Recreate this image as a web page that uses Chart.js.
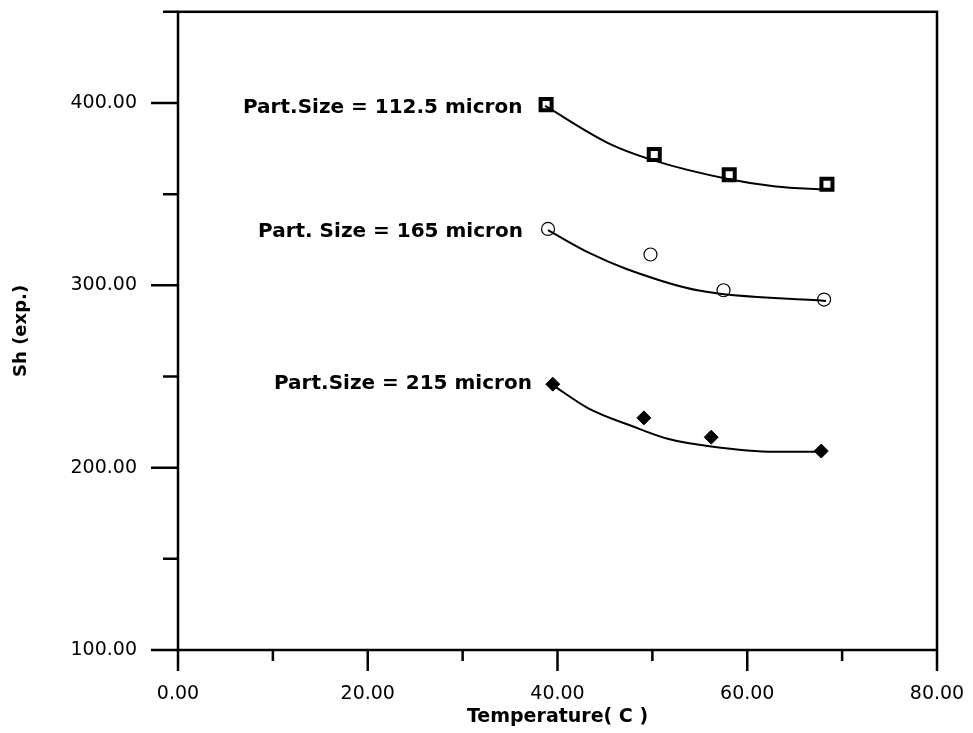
<!DOCTYPE html>
<html>
<head>
<meta charset="utf-8">
<script src="https://cdn.jsdelivr.net/npm/chart.js@4.4.1/dist/chart.umd.min.js"></script>
<style>
  html, body { margin: 0; padding: 0; background: #fff; }
  #wrap { width: 973px; height: 733px; }
</style>
</head>
<body>
<div id="wrap"><canvas id="grafico"></canvas></div>
<script>
// Medidas experimentales (Sh vs temperatura) para cada tamaño de partícula
const temp1125 = [38.8, 50.2, 58.1, 68.4];
const sh1125 = [399.1, 371.8, 360.6, 355.4];
const temp165 = [39.0, 49.8, 57.5, 68.1];
const sh165 = [330.9, 316.9, 297.3, 292.2];
const temp215 = [39.5, 49.1, 56.2, 67.8];
const sh215 = [245.8, 227.3, 216.7, 209.1];

// Curvas ajustadas
const ajusteTemp1125 = [38.7, 45.5, 50.2, 58.1, 63.0, 68.3];
const ajusteSh1125 = [398.4, 377.6, 368.4, 358.2, 354.2, 352.5];
const ajusteTemp165 = [39.0, 43.4, 47.2, 54.9, 68.3];
const ajusteSh165 = [330.2, 317.6, 309.1, 297.1, 291.4];
const ajusteTemp215 = [39.5, 43.2, 47.9, 51.5, 56.2, 62.9, 67.8];
const ajusteSh215 = [245.3, 232.7, 222.7, 216.0, 211.6, 208.7, 208.7];

// Etiquetas de cada serie: texto y punto de anclaje (borde derecho)
const etiquetas = ['Part.Size = 112.5 micron', 'Part. Size = 165 micron', 'Part.Size = 215 micron'];
const etiquetaX = [36.3, 36.35, 37.3];
const etiquetaY = [397.3, 329.6, 246.2];

// Marcas de los ejes
const xMayores = [0, 20, 40, 60, 80];
const xMenores = [10, 30, 50, 70];
const yMayores = [100, 200, 300, 400];
const yMenores = [150, 250, 350, 450];

function puntos(xs, ys) {
    return xs.map((x, i) => ({ x: x, y: ys[i] }));
}

// Marco, marcas de eje y etiquetas de texto
const marcoYMarcas = {
    id: 'marcoYMarcas',
    afterDraw(chart) {
        const ctx = chart.ctx;
        const area = chart.chartArea;
        const sx = chart.scales.x;
        const sy = chart.scales.y;
        ctx.save();
        ctx.strokeStyle = '#000';
        ctx.lineWidth = 2.5;
        ctx.strokeRect(area.left, area.top, area.right - area.left, area.bottom - area.top);

        ctx.beginPath();
        xMayores.forEach(v => {
            const px = sx.getPixelForValue(v);
            ctx.moveTo(px, area.bottom);
            ctx.lineTo(px, area.bottom + 21);
        });
        xMenores.forEach(v => {
            const px = sx.getPixelForValue(v);
            ctx.moveTo(px, area.bottom);
            ctx.lineTo(px, area.bottom + 11);
        });
        yMayores.forEach(v => {
            const py = sy.getPixelForValue(v);
            ctx.moveTo(area.left, py);
            ctx.lineTo(area.left - 27, py);
        });
        yMenores.forEach(v => {
            const py = sy.getPixelForValue(v);
            ctx.moveTo(area.left, py);
            ctx.lineTo(area.left - 15, py);
        });
        ctx.stroke();

        ctx.fillStyle = '#000';
        ctx.font = 'bold 20px "DejaVu Sans"';
        ctx.textAlign = 'right';
        ctx.textBaseline = 'middle';
        etiquetas.forEach((t, i) => {
            ctx.fillText(t, sx.getPixelForValue(etiquetaX[i]), sy.getPixelForValue(etiquetaY[i]));
        });
        ctx.restore();
    }
};

const ctx = document.getElementById('grafico').getContext('2d');
new Chart(ctx, {
    type: 'scatter',
    data: {
        datasets: [
            {
                data: puntos(ajusteTemp1125, ajusteSh1125),
                showLine: true, borderColor: '#000', borderWidth: 2,
                pointRadius: 0, cubicInterpolationMode: 'monotone'
            },
            {
                data: puntos(ajusteTemp165, ajusteSh165),
                showLine: true, borderColor: '#000', borderWidth: 2,
                pointRadius: 0, cubicInterpolationMode: 'monotone'
            },
            {
                data: puntos(ajusteTemp215, ajusteSh215),
                showLine: true, borderColor: '#000', borderWidth: 2,
                pointRadius: 0, cubicInterpolationMode: 'monotone'
            },
            {
                data: puntos(temp1125, sh1125),
                pointStyle: 'rect', pointRadius: 7.8,
                pointBackgroundColor: '#fff', pointBorderColor: '#000', pointBorderWidth: 4
            },
            {
                data: puntos(temp165, sh165),
                pointStyle: 'circle', pointRadius: 6.5,
                pointBackgroundColor: '#fff', pointBorderColor: '#000', pointBorderWidth: 1.2
            },
            {
                data: puntos(temp215, sh215),
                pointStyle: 'rectRot', pointRadius: 7,
                pointBackgroundColor: '#000', pointBorderColor: '#000', pointBorderWidth: 1
            }
        ]
    },
    options: {
        responsive: true,
        maintainAspectRatio: false,
        animation: false,
        layout: { padding: { top: 9, right: 36, left: 0, bottom: 0 } },
        plugins: {
            legend: { display: false },
            tooltip: { enabled: false }
        },
        scales: {
            x: {
                type: 'linear',
                min: 0,
                max: 80,
                afterFit(scale) {
                    scale.height = 83;
                    scale.paddingLeft = 0;
                    scale.paddingRight = 0;
                },
                grid: { display: false, drawTicks: false },
                border: { display: false },
                ticks: {
                    stepSize: 20,
                    padding: 33,
                    color: '#000',
                    font: { family: '"DejaVu Sans"', size: 19 },
                    callback: v => v.toFixed(2)
                },
                title: {
                    display: true,
                    text: 'Temperature( C )',
                    color: '#000',
                    font: { family: '"DejaVu Sans"', size: 19, weight: 'bold' },
                    padding: { top: 0, bottom: 5 }
                }
            },
            y: {
                type: 'linear',
                min: 100,
                max: 450,
                afterFit(scale) {
                    scale.width = 178;
                    scale.paddingTop = 0;
                    scale.paddingBottom = 0;
                },
                grid: { display: false, drawTicks: false },
                border: { display: false },
                ticks: {
                    stepSize: 50,
                    padding: 41,
                    color: '#000',
                    font: { family: '"DejaVu Sans"', size: 19 },
                    callback: v => (v % 100 === 0 ? v.toFixed(2) : '')
                },
                title: {
                    display: true,
                    text: 'Sh (exp.)',
                    color: '#000',
                    font: { family: '"DejaVu Sans"', size: 18, weight: 'bold' },
                    padding: { top: 11, bottom: 0 }
                }
            }
        }
    },
    plugins: [marcoYMarcas]
});
</script>
</body>
</html>
